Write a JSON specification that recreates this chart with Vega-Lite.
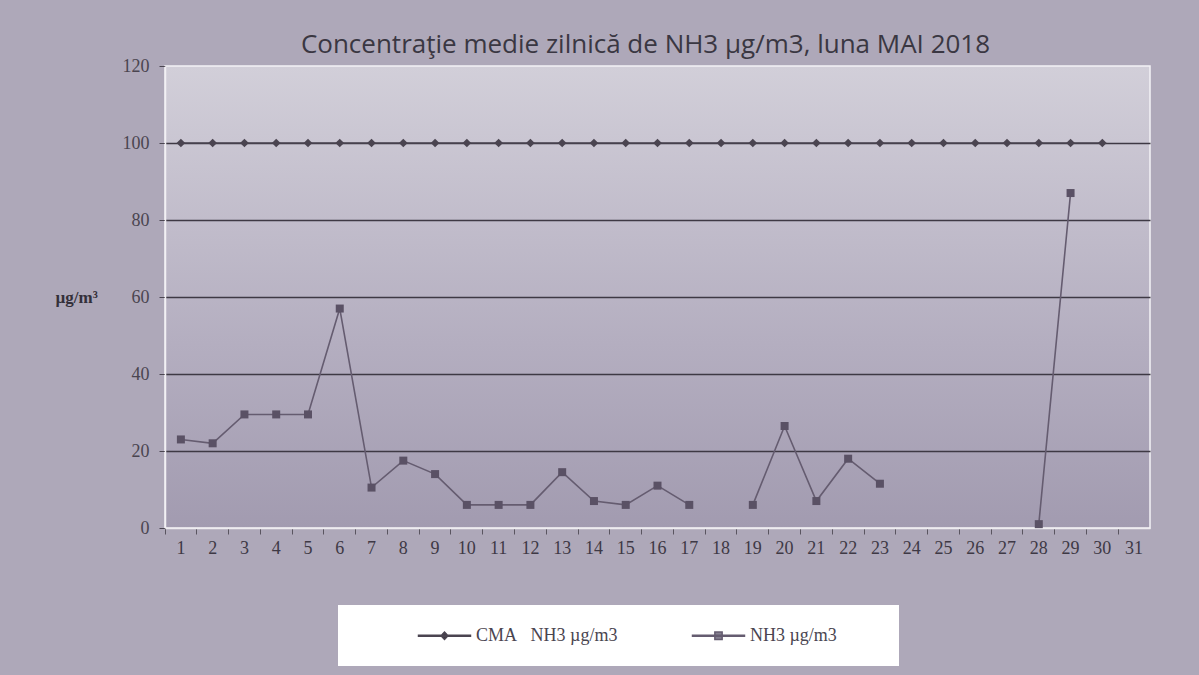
{
  "$schema": "https://vega.github.io/schema/vega-lite/v6.json",
  "width": 985,
  "height": 462,
  "autosize": {"type": "none"},
  "padding": {"left": 165, "top": 66, "right": 49, "bottom": 147},
  "background": "#aea8b9",
  "config": {
    "view": {
      "fill": {"gradient": "linear", "x1": 0, "y1": 0, "x2": 0, "y2": 1, "stops": [{"offset": 0, "color": "#d2cfd9"}, {"offset": 0.6, "color": "#b4aec0"}, {"offset": 1, "color": "#a29bb0"}]},
      "stroke": "#f4f2f6",
      "strokeWidth": 1.5
    }
  },
  "title": {
    "text": "Concentraţie medie zilnică de NH3 µg/m3, luna MAI 2018",
    "font": "Open Sans",
    "fontSize": 26,
    "fontWeight": "normal",
    "color": "#3a3742",
    "anchor": "middle",
    "dx": -12,
    "offset": -1
  },
  "data": {
    "values": [
      {"day": 1, "series": "CMA\u00a0\u00a0\u00a0NH3 µg/m3", "value": 100},
      {"day": 2, "series": "CMA\u00a0\u00a0\u00a0NH3 µg/m3", "value": 100},
      {"day": 3, "series": "CMA\u00a0\u00a0\u00a0NH3 µg/m3", "value": 100},
      {"day": 4, "series": "CMA\u00a0\u00a0\u00a0NH3 µg/m3", "value": 100},
      {"day": 5, "series": "CMA\u00a0\u00a0\u00a0NH3 µg/m3", "value": 100},
      {"day": 6, "series": "CMA\u00a0\u00a0\u00a0NH3 µg/m3", "value": 100},
      {"day": 7, "series": "CMA\u00a0\u00a0\u00a0NH3 µg/m3", "value": 100},
      {"day": 8, "series": "CMA\u00a0\u00a0\u00a0NH3 µg/m3", "value": 100},
      {"day": 9, "series": "CMA\u00a0\u00a0\u00a0NH3 µg/m3", "value": 100},
      {"day": 10, "series": "CMA\u00a0\u00a0\u00a0NH3 µg/m3", "value": 100},
      {"day": 11, "series": "CMA\u00a0\u00a0\u00a0NH3 µg/m3", "value": 100},
      {"day": 12, "series": "CMA\u00a0\u00a0\u00a0NH3 µg/m3", "value": 100},
      {"day": 13, "series": "CMA\u00a0\u00a0\u00a0NH3 µg/m3", "value": 100},
      {"day": 14, "series": "CMA\u00a0\u00a0\u00a0NH3 µg/m3", "value": 100},
      {"day": 15, "series": "CMA\u00a0\u00a0\u00a0NH3 µg/m3", "value": 100},
      {"day": 16, "series": "CMA\u00a0\u00a0\u00a0NH3 µg/m3", "value": 100},
      {"day": 17, "series": "CMA\u00a0\u00a0\u00a0NH3 µg/m3", "value": 100},
      {"day": 18, "series": "CMA\u00a0\u00a0\u00a0NH3 µg/m3", "value": 100},
      {"day": 19, "series": "CMA\u00a0\u00a0\u00a0NH3 µg/m3", "value": 100},
      {"day": 20, "series": "CMA\u00a0\u00a0\u00a0NH3 µg/m3", "value": 100},
      {"day": 21, "series": "CMA\u00a0\u00a0\u00a0NH3 µg/m3", "value": 100},
      {"day": 22, "series": "CMA\u00a0\u00a0\u00a0NH3 µg/m3", "value": 100},
      {"day": 23, "series": "CMA\u00a0\u00a0\u00a0NH3 µg/m3", "value": 100},
      {"day": 24, "series": "CMA\u00a0\u00a0\u00a0NH3 µg/m3", "value": 100},
      {"day": 25, "series": "CMA\u00a0\u00a0\u00a0NH3 µg/m3", "value": 100},
      {"day": 26, "series": "CMA\u00a0\u00a0\u00a0NH3 µg/m3", "value": 100},
      {"day": 27, "series": "CMA\u00a0\u00a0\u00a0NH3 µg/m3", "value": 100},
      {"day": 28, "series": "CMA\u00a0\u00a0\u00a0NH3 µg/m3", "value": 100},
      {"day": 29, "series": "CMA\u00a0\u00a0\u00a0NH3 µg/m3", "value": 100},
      {"day": 30, "series": "CMA\u00a0\u00a0\u00a0NH3 µg/m3", "value": 100},
      {"day": 1, "series": "NH3 µg/m3", "value": 23},
      {"day": 2, "series": "NH3 µg/m3", "value": 22},
      {"day": 3, "series": "NH3 µg/m3", "value": 29.5},
      {"day": 4, "series": "NH3 µg/m3", "value": 29.5},
      {"day": 5, "series": "NH3 µg/m3", "value": 29.5},
      {"day": 6, "series": "NH3 µg/m3", "value": 57},
      {"day": 7, "series": "NH3 µg/m3", "value": 10.5},
      {"day": 8, "series": "NH3 µg/m3", "value": 17.5},
      {"day": 9, "series": "NH3 µg/m3", "value": 14},
      {"day": 10, "series": "NH3 µg/m3", "value": 6},
      {"day": 11, "series": "NH3 µg/m3", "value": 6},
      {"day": 12, "series": "NH3 µg/m3", "value": 6},
      {"day": 13, "series": "NH3 µg/m3", "value": 14.5},
      {"day": 14, "series": "NH3 µg/m3", "value": 7},
      {"day": 15, "series": "NH3 µg/m3", "value": 6},
      {"day": 16, "series": "NH3 µg/m3", "value": 11},
      {"day": 17, "series": "NH3 µg/m3", "value": 6},
      {"day": 18, "series": "NH3 µg/m3", "value": null},
      {"day": 19, "series": "NH3 µg/m3", "value": 6},
      {"day": 20, "series": "NH3 µg/m3", "value": 26.5},
      {"day": 21, "series": "NH3 µg/m3", "value": 7},
      {"day": 22, "series": "NH3 µg/m3", "value": 18},
      {"day": 23, "series": "NH3 µg/m3", "value": 11.5},
      {"day": 24, "series": "NH3 µg/m3", "value": null},
      {"day": 25, "series": "NH3 µg/m3", "value": null},
      {"day": 26, "series": "NH3 µg/m3", "value": null},
      {"day": 27, "series": "NH3 µg/m3", "value": null},
      {"day": 28, "series": "NH3 µg/m3", "value": 1},
      {"day": 29, "series": "NH3 µg/m3", "value": 87},
      {"day": 30, "series": "NH3 µg/m3", "value": null},
      {"day": 31, "series": "NH3 µg/m3", "value": null}
    ]
  },
  "encoding": {
    "x": {
      "field": "day",
      "type": "ordinal",
      "bandPosition": 0.5,
      "scale": {"type": "band", "paddingInner": 0, "paddingOuter": 0, "domain": [1,2,3,4,5,6,7,8,9,10,11,12,13,14,15,16,17,18,19,20,21,22,23,24,25,26,27,28,29,30,31]},
      "axis": {
        "title": null,
        "labelAngle": 0,
        "bandPosition": 0,
        "labelFont": "Liberation Serif",
        "labelFontSize": 18,
        "labelColor": "#3e3945",
        "labelPadding": 5,
        "domainColor": "#eeecf0",
        "domainWidth": 1.5,
        "tickColor": "#5a5560",
        "tickSize": 6,
        "grid": false
      }
    },
    "y": {
      "field": "value",
      "type": "quantitative",
      "scale": {"domain": [0, 120]},
      "axis": {
        "values": [0, 20, 40, 60, 80, 100, 120],
        "title": "µg/m³",
        "titleFont": "Liberation Serif",
        "titleFontSize": 17,
        "titleFontWeight": "bold",
        "titleColor": "#34303a",
        "titleAngle": 0,
        "titleAlign": "left",
        "titleBaseline": "middle",
        "titleX": -110,
        "titleY": 231,
        "labelFont": "Liberation Serif",
        "labelFontSize": 18,
        "labelColor": "#4a4550",
        "labelPadding": 10,
        "tickColor": "#4a4550",
        "tickSize": 6,
        "domainColor": "#f2f0f4",
        "domainWidth": 1.5,
        "grid": true,
        "gridColor": {"condition": {"test": "datum.value == 0 || datum.value == 120", "value": "transparent"}, "value": "#3e3944"},
        "gridWidth": 1.3
      }
    }
  },
  "layer": [
    {
      "mark": {"type": "line", "strokeWidth": 1.6, "invalid": "break-paths-show-domains"},
      "encoding": {
        "stroke": {
          "field": "series",
          "type": "nominal",
          "scale": {"domain": ["CMA\u00a0\u00a0\u00a0NH3 µg/m3", "NH3 µg/m3"], "range": ["#4a4450", "#655c70"]},
          "legend": {
            "orient": "none",
            "legendX": 173,
            "legendY": 539,
            "direction": "horizontal",
            "title": "\u00a0",
            "titleOrient": "left",
            "titleFontSize": 1,
            "titlePadding": 76,
            "fillColor": "#ffffff",
            "padding": 21,
            "symbolSize": 300,
            "symbolType": "M-3,-0.06H3V0.06H-3Z",
            "labelOffset": 22,
            "columnPadding": 71,
            "labelLimit": 300,
            "labelFont": "Liberation Serif",
            "labelFontSize": 18,
            "labelColor": "#4a4550",
            "labelExpr": "indexof(datum.value, 'CMA') == 0 ? datum.label : datum.label + '\u00a0\u00a0\u00a0\u00a0\u00a0\u00a0\u00a0\u00a0\u00a0\u200b'",
            "encode": {
              "symbols": {
                "update": {
                  "shape": {"signal": "indexof(datum.value, 'CMA') == 0 ? 'M-3,-0.07H3V0.07H-3ZM-0.4,0L0,-0.42L0.4,0L0,0.42Z' : 'M-3,-0.06H3V0.06H-3ZM-0.42,-0.42H0.42V0.42H-0.42Z'"},
                  "fill": {"signal": "indexof(datum.value, 'CMA') == 0 ? '#3a3540' : '#858090'"},
                  "stroke": {"value": "transparent"},
                  "fillOpacity": {"value": 1},
                  "opacity": {"value": 1}
                }
              }
            }
          }
        }
      }
    },
    {
      "transform": [{"filter": "indexof(datum.series, 'CMA') == 0"}],
      "mark": {"type": "point", "filled": true, "opacity": 1, "shape": "diamond", "size": 75, "color": "#4a4450"}
    },
    {
      "transform": [{"filter": "indexof(datum.series, 'CMA') != 0"}],
      "mark": {"type": "point", "filled": true, "opacity": 1, "shape": "square", "size": 64, "color": "#5a5165"}
    }
  ]
}
